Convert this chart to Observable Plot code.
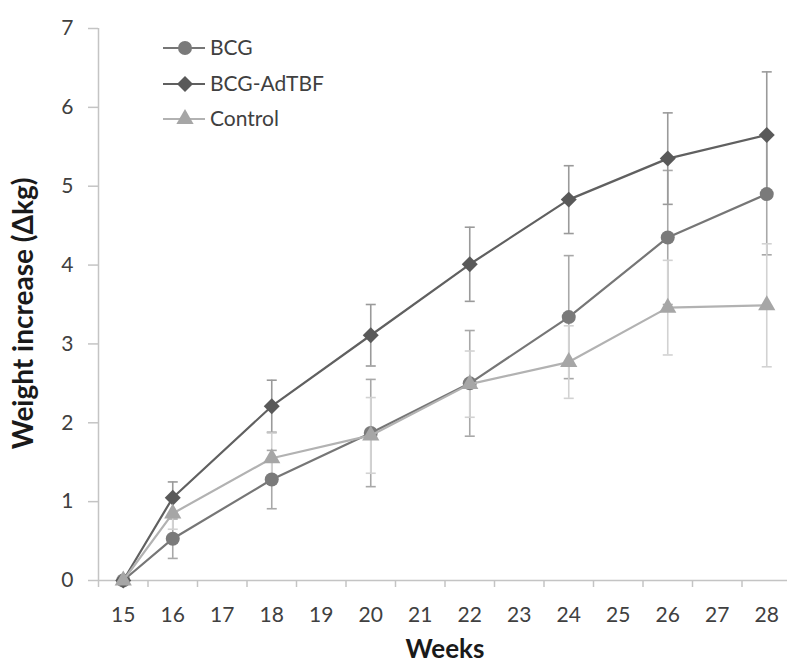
<!DOCTYPE html>
<html><head><meta charset="utf-8">
<script src="https://cdn.jsdelivr.net/npm/d3@7"></script>
<script src="https://cdn.jsdelivr.net/npm/@observablehq/plot@0.6"></script>
<style>
body{margin:0;background:#fff;}
#wrap{position:relative;width:787px;height:664px;font-family:Lato,"Open Sans",sans-serif;}
#legend{position:absolute;left:0;top:0;}
</style></head><body><div id="wrap"></div>
<script>
const weeks = [15, 16, 18, 20, 22, 24, 26, 28];
const tickWeeks = [15, 16, 17, 18, 19, 20, 21, 22, 23, 24, 25, 26, 27, 28];
const yTicks = [0, 1, 2, 3, 4, 5, 6, 7];
const seriesNames = ["BCG", "BCG-AdTBF", "Control"];
const bcg = [0, 0.53, 1.28, 1.87, 2.50, 3.34, 4.35, 4.90];
const bcgErr = [0, 0.25, 0.37, 0.68, 0.67, 0.78, 0.85, 0.77];
const adtbf = [0, 1.05, 2.21, 3.11, 4.01, 4.83, 5.35, 5.65];
const adtbfErr = [0, 0.20, 0.33, 0.39, 0.47, 0.43, 0.58, 0.80];
const control = [0, 0.85, 1.55, 1.84, 2.49, 2.77, 3.46, 3.49];
const controlErr = [0, 0.20, 0.32, 0.48, 0.42, 0.46, 0.60, 0.78];
const xTitle = "Weeks";
const yTitle = "Weight increase (Δkg)";

const styles = {
  "BCG": {values: bcg, errors: bcgErr, symbol: "circle", r: 7, marker: "#7a7a7a", line: "#767676", err: "#a8a8a8"},
  "BCG-AdTBF": {values: adtbf, errors: adtbfErr, symbol: "diamond2", r: 7.2, marker: "#595959", line: "#606060", err: "#9a9a9a"},
  "Control": {values: control, errors: controlErr, symbol: "triangle", r: 6.4, marker: "#a6a6a6", line: "#b2b2b2", err: "#d2d2d2"}
};

const rows = seriesNames.map(name => weeks.map((w, i) => ({
  series: name, week: w, value: styles[name].values[i], err: styles[name].errors[i]
})));

const capSymbol = {draw(ctx, size) { const r = Math.sqrt(size / Math.PI); ctx.moveTo(-r, 0); ctx.lineTo(r, 0); }};
const axisColor = "#c4c4c4";
const font = "Lato, 'Open Sans', sans-serif";

const marks = [];
// category axis: boundaries half a week either side of each label
const boundaries = [tickWeeks[0] - 0.5, ...tickWeeks.map(t => t + 0.5)];
marks.push(Plot.ruleY([yTicks[0]], {stroke: axisColor, strokeWidth: 1.5}));
marks.push(Plot.ruleX([boundaries[0]], {y1: yTicks[0], y2: yTicks[yTicks.length - 1], stroke: axisColor, strokeWidth: 1.5}));
marks.push(Plot.axisY({ticks: yTicks, tickFormat: d => String(d), tickSize: 10, tickPadding: 15, stroke: axisColor, strokeWidth: 1.5, color: "#404040", fontSize: 21, label: null}));
marks.push(Plot.axisX({ticks: boundaries, tickSize: 7, tickFormat: () => "", stroke: axisColor, strokeWidth: 1.5, label: null}));
marks.push(Plot.axisX({ticks: tickWeeks, tickSize: 0, tickPadding: 27, color: "#404040", fontSize: 21, label: null}));

// error bars
for (const [k, name] of seriesNames.entries()) {
  const s = styles[name];
  const d = rows[k].filter(r => r.err > 0);
  marks.push(Plot.ruleX(d, {x: "week", y1: r => r.value - r.err, y2: r => r.value + r.err, stroke: s.err, strokeWidth: 1.6}));
  marks.push(Plot.dot(d, {x: "week", y: r => r.value - r.err, symbol: capSymbol, r: 5, stroke: s.err, strokeWidth: 1.6, fill: "none"}));
  marks.push(Plot.dot(d, {x: "week", y: r => r.value + r.err, symbol: capSymbol, r: 5, stroke: s.err, strokeWidth: 1.6, fill: "none"}));
}
// lines and markers
for (const [k, name] of seriesNames.entries()) {
  const s = styles[name];
  marks.push(Plot.line(rows[k], {x: "week", y: "value", stroke: s.line, strokeWidth: 2.2}));
  marks.push(Plot.dot(rows[k], {x: "week", y: "value", symbol: s.symbol, r: s.r, fill: s.marker, stroke: "none"}));
}
// titles
marks.push(Plot.text([xTitle], {frameAnchor: "bottom", textAnchor: "middle", dy: 77, dx: 2, lineAnchor: "bottom", fontSize: 26, fontWeight: "bold", fill: "#1a1a1a"}));
marks.push(Plot.text([yTitle], {frameAnchor: "left", textAnchor: "middle", lineAnchor: "middle", dx: -74, dy: 9, rotate: -90, fontSize: 28, fontWeight: "bold", fill: "#1a1a1a"}));

const chart = Plot.plot({
  width: 787, height: 664,
  marginLeft: 98, marginRight: 0, marginTop: 28, marginBottom: 84,
  x: {domain: [14.5, 28.5], range: [98, 791]},
  y: {domain: [0, 7]},
  style: {fontFamily: font, background: "#fff"},
  marks
});
const wrap = document.getElementById("wrap");
wrap.appendChild(chart);

// legend overlay
const leg = d3.select(wrap).append("svg").attr("id", "legend").attr("width", 400).attr("height", 150);
const legY = [48, 84, 119];
seriesNames.forEach((name, i) => {
  const s = styles[name];
  const g = leg.append("g").attr("transform", `translate(0,${legY[i]})`);
  g.append("line").attr("x1", 163).attr("x2", 205).attr("stroke", s.line).attr("stroke-width", 2.2);
  const sym = {circle: d3.symbolCircle, diamond2: d3.symbolDiamond2, triangle: d3.symbolTriangle}[s.symbol];
  g.append("path").attr("transform", "translate(185,0)").attr("d", d3.symbol(sym, Math.PI * s.r * s.r)()).attr("fill", s.marker);
  g.append("text").attr("x", 210).attr("dy", "0.35em").attr("font-size", 21).attr("fill", "#404040")
    .style("font-family", font).text(name);
});
</script></body></html>
